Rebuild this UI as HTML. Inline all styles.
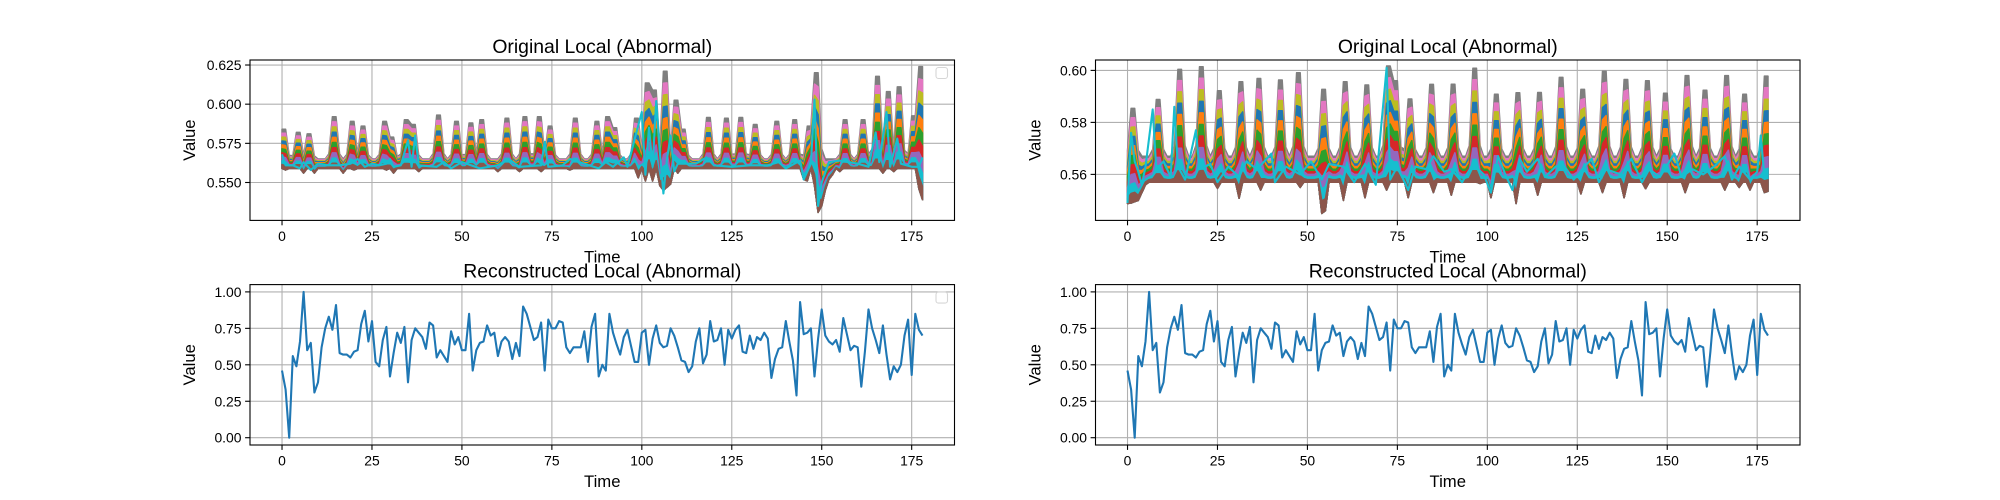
<!DOCTYPE html>
<html><head><meta charset="utf-8">
<style>
html,body{margin:0;padding:0;background:#fff;}
svg{display:block;font-family:"Liberation Sans","DejaVu Sans",sans-serif;}
</style></head>
<body>
<svg id="fig" width="2000" height="500" viewBox="0 0 2000 500" xmlns="http://www.w3.org/2000/svg">
<rect x="0" y="0" width="2000" height="500" fill="#fff"/>
</svg>
<script>
// ---- data ----
const timeTicks = [0,25,50,75,100,125,150,175];
const tlYTicks = [0.550,0.575,0.600,0.625];
const trYTicks = [0.56,0.58,0.60];
const recYTicks = [0.00,0.25,0.50,0.75,1.00];

const tlPeakT = [0,4,7,14,19,22,28,30,34,36,43,48,52,55,62,67,71,74,81,87,90,92,98,101,103,106,109,111,118,123,127,131,137,142,146,148,156,161,165,168,171,175,177];
const tlPeakV = [0.584,0.582,0.581,0.592,0.589,0.586,0.589,0.579,0.590,0.587,0.593,0.589,0.588,0.590,0.591,0.592,0.592,0.586,0.591,0.589,0.592,0.585,0.591,0.6135,0.609,0.621,0.6025,0.584,0.5915,0.591,0.5915,0.587,0.589,0.590,0.586,0.620,0.590,0.590,0.6177,0.608,0.611,0.5925,0.624];
const tlDipT = [1,6,9,17,20,29,31,38,60,66,72,80,99,101,103,105,106,107,108,110,145,146,148,149,150,151,152,153,155,167,170,177,178];
const tlDipV = [0.558,0.556,0.556,0.556,0.558,0.558,0.556,0.557,0.557,0.557,0.557,0.558,0.553,0.551,0.551,0.548,0.545,0.547,0.549,0.556,0.552,0.551,0.548,0.531,0.535,0.545,0.552,0.555,0.557,0.556,0.557,0.546,0.539];
const tlCyanT = [0,1,3,5,6,8,10,13,16,19,21,23,25,27,29,30,31,33,35,36,37,38,43,45,47,50,55,60,63,66,72,73,74,78,80,84,88,90,92,95,96,100,101,102,103,104,105,106,107,108,109,110,115,118,120,125,130,135,138,140,144,145,146,147,148,149,150,152,155,160,163,165,166,168,169,171,172,175,177,178];
const tlCyanV = [0.568,0.561,0.561,0.559,0.563,0.558,0.562,0.561,0.561,0.562,0.565,0.560,0.562,0.561,0.562,0.565,0.560,0.561,0.577,0.560,0.580,0.561,0.560,0.563,0.559,0.563,0.559,0.561,0.565,0.560,0.561,0.576,0.560,0.561,0.565,0.562,0.559,0.563,0.560,0.566,0.560,0.595,0.555,0.585,0.560,0.602,0.570,0.543,0.565,0.580,0.557,0.562,0.562,0.566,0.561,0.560,0.561,0.561,0.563,0.559,0.564,0.552,0.557,0.562,0.603,0.535,0.550,0.563,0.564,0.562,0.560,0.582,0.563,0.595,0.560,0.578,0.562,0.560,0.560,0.566];

const trPeakT = [1,8,14,20,25,31,36,42,47,54,60,66,72,74,78,84,90,96,102,108,114,120,126,132,138,144,149,155,160,166,171,177];
const trPeakV = [0.5854,0.5888,0.6004,0.6014,0.5922,0.5956,0.5969,0.5963,0.5991,0.5927,0.5956,0.5944,0.6017,0.596,0.589,0.5946,0.5947,0.6008,0.5908,0.5914,0.5915,0.5973,0.5927,0.5997,0.5965,0.596,0.5912,0.598,0.5924,0.598,0.5908,0.5978];
const trDipT = [0,1,2,3,4,5,25,31,37,48,54,55,60,66,72,78,85,90,98,101,108,114,126,132,138,144,155,166,170,173,177,178];
const trDipV = [0.5488,0.549,0.5495,0.550,0.553,0.556,0.5546,0.5508,0.554,0.555,0.545,0.546,0.550,0.551,0.554,0.551,0.553,0.552,0.5565,0.551,0.5488,0.552,0.5525,0.553,0.551,0.5545,0.553,0.554,0.555,0.554,0.553,0.5535];
const trCyanT = [0,1,2,3,4,5,7,8,10,12,13,14,16,19,20,23,25,28,31,33,36,40,41,44,48,51,54,56,60,63,66,69,72,73,75,78,80,83,85,88,90,93,96,99,101,103,105,107,109,111,114,116,119,121,124,127,129,131,133,137,140,143,145,148,152,154,157,160,163,166,168,170,173,175,176,177,178];
const trCyanV = [0.549,0.576,0.565,0.561,0.556,0.563,0.585,0.562,0.565,0.559,0.586,0.563,0.558,0.577,0.562,0.564,0.557,0.563,0.559,0.565,0.562,0.568,0.557,0.563,0.560,0.565,0.558,0.564,0.563,0.557,0.564,0.556,0.601,0.558,0.563,0.554,0.563,0.562,0.567,0.561,0.562,0.557,0.564,0.560,0.553,0.567,0.560,0.554,0.566,0.561,0.566,0.559,0.563,0.564,0.558,0.563,0.566,0.557,0.562,0.560,0.566,0.557,0.562,0.559,0.568,0.559,0.562,0.560,0.563,0.567,0.558,0.563,0.558,0.561,0.575,0.559,0.562];

const recValues = [0.46,0.33,0.00,0.56,0.49,0.66,1.00,0.60,0.65,0.31,0.38,0.62,0.75,0.83,0.74,0.91,0.58,0.57,0.57,0.55,0.59,0.60,0.78,0.87,0.66,0.80,0.52,0.49,0.67,0.76,0.42,0.58,0.72,0.65,0.76,0.38,0.67,0.75,0.72,0.69,0.61,0.79,0.77,0.55,0.60,0.56,0.52,0.73,0.64,0.69,0.60,0.60,0.85,0.46,0.60,0.65,0.66,0.77,0.70,0.72,0.56,0.66,0.69,0.66,0.54,0.65,0.56,0.90,0.85,0.76,0.67,0.69,0.79,0.46,0.81,0.75,0.75,0.80,0.79,0.62,0.58,0.62,0.62,0.62,0.73,0.52,0.76,0.85,0.42,0.50,0.46,0.85,0.72,0.64,0.57,0.69,0.74,0.63,0.52,0.52,0.72,0.74,0.50,0.68,0.77,0.65,0.62,0.63,0.75,0.70,0.62,0.53,0.52,0.45,0.49,0.66,0.75,0.51,0.57,0.80,0.66,0.67,0.75,0.50,0.74,0.68,0.74,0.77,0.59,0.58,0.70,0.61,0.69,0.67,0.72,0.68,0.41,0.54,0.61,0.62,0.80,0.66,0.53,0.29,0.93,0.71,0.72,0.75,0.42,0.68,0.88,0.70,0.66,0.64,0.67,0.59,0.82,0.71,0.60,0.63,0.62,0.35,0.59,0.88,0.75,0.67,0.58,0.77,0.57,0.40,0.49,0.45,0.50,0.70,0.81,0.43,0.85,0.74,0.70];

const tab10 = ["#1f77b4","#ff7f0e","#2ca02c","#d62728","#9467bd","#8c564b","#e377c2","#7f7f7f","#bcbd22","#17becf"];
const NS = "http://www.w3.org/2000/svg";
const fig = document.getElementById('fig');

function mk(tag, attrs, parent){
  const e = document.createElementNS(NS, tag);
  for (const k in attrs) e.setAttribute(k, attrs[k]);
  (parent||fig).appendChild(e);
  return e;
}

function makeAxes(name, x0, y0, w, h, ymin, ymax, yTicks, yFmt, title, legend){
  const g = mk('g', {});
  
  
  const xmin = -8.9, xmax = 186.9;
  const sx = t => x0 + (t - xmin) / (xmax - xmin) * w;
  const sy = v => y0 + h - (v - ymin) / (ymax - ymin) * h;
  const clip = mk('clipPath', {id: name + '-clip'}, g);
  mk('rect', {x:x0, y:y0, width:w, height:h}, clip);
  const grid = mk('g', {}, g);
  
  
  timeTicks.forEach(t => {
    mk('line', {x1:sx(t), x2:sx(t), y1:y0, y2:y0+h, stroke:'#b0b0b0', 'stroke-width':1.1}, grid);
  });
  yTicks.forEach(v => {
    mk('line', {x1:x0, x2:x0+w, y1:sy(v), y2:sy(v), stroke:'#b0b0b0', 'stroke-width':1.1}, grid);
  });
  const plot = mk('g', {'clip-path': 'url(#' + name + '-clip)'}, g);
  
  
  const tk = mk('g', {}, g);
  
  
  timeTicks.forEach(t => {
    mk('line', {x1:sx(t), x2:sx(t), y1:y0+h, y2:y0+h+4.9, stroke:'#000', 'stroke-width':1.1}, tk);
    const tx = mk('text', {x:sx(t), y:y0+h+20.5, 'font-size':13.9, 'text-anchor':'middle', fill:'#000'}, tk);
    tx.textContent = t;
  });
  yTicks.forEach(v => {
    mk('line', {x1:x0-4.9, x2:x0, y1:sy(v), y2:sy(v), stroke:'#000', 'stroke-width':1.1}, tk);
    const tx = mk('text', {x:x0-8.5, y:sy(v)+5, 'font-size':13.9, 'text-anchor':'end', fill:'#000'}, tk);
    tx.textContent = v.toFixed(yFmt);
  });
  mk('rect', {x:x0, y:y0, width:w, height:h, fill:'none', stroke:'#000', 'stroke-width':1.1}, g);
  const ttl = mk('text', {x:x0+w/2, y:y0-7, 'font-size':19.4, 'text-anchor':'middle', fill:'#000'}, g);
  
  
  ttl.textContent = title;
  const xl = mk('text', {x:x0+w/2, y:y0+h+42, 'font-size':16.7, 'text-anchor':'middle', fill:'#000'}, g);
  
  
  xl.textContent = 'Time';
  const yl = mk('text', {x:0, y:0, 'font-size':16.7, 'text-anchor':'middle', fill:'#000', transform:'translate(' + (x0-55) + ',' + (y0+h/2) + ') rotate(-90)'}, g);
  
  
  yl.textContent = 'Value';
  if (legend) {
    const lg = mk('rect', {x:x0+w-18.5, y:y0+7.5, width:11.5, height:11, rx:2.5, fill:'#fff', stroke:'#d6d6d6', 'stroke-width':1.1}, g);
    
    
  }
  return {sx, sy, plot};
}

function drawEnsemble(ax, name, peakT, peakV, dipT, dipV, cyanT, cyanV, baseHi, baseLo){
  const N = 179;
  const upper = [], lower = [];
  for (let t = 0; t < N; t++){ upper.push(baseHi); lower.push(baseLo); }
  peakT.forEach((pt, i) => {
    const pv = peakV[i];
    [pt, pt+1].forEach(t => { if (t >= 0 && t < N) upper[t] = Math.max(upper[t], pv); });
    [pt-1, pt+2].forEach(t => { if (t >= 0 && t < N) upper[t] = Math.max(upper[t], baseHi + (pv - baseHi) * 0.12); });
  });
  dipT.forEach((dt, i) => { if (dt >= 0 && dt < N) lower[dt] = Math.min(lower[dt], dipV[i]); });
  const layers = mk('g', {}, ax.plot);
  
  
  const order = [7,6,8,0,1,2,3,4,9,5];
  for (let k = 0; k < 10; k++){
    const f = (10 - k) / 10;
    let d = '';
    for (let t = 0; t < N; t++){
      const v = lower[t] + (upper[t] - lower[t]) * f;
      d += (t ? 'L' : 'M') + ax.sx(t).toFixed(1) + ',' + ax.sy(v).toFixed(1);
    }
    for (let t = N - 1; t >= 0; t--){
      d += 'L' + ax.sx(t).toFixed(1) + ',' + ax.sy(lower[t]).toFixed(1);
    }
    const p = mk('path', {d: d + 'Z', fill: tab10[order[k]], stroke: tab10[order[k]], 'stroke-width': 1.5, 'stroke-linejoin':'round'}, layers);
    
    
  }
  let d = '';
  cyanT.forEach((t, i) => { d += (i ? 'L' : 'M') + ax.sx(t).toFixed(1) + ',' + ax.sy(cyanV[i]).toFixed(1); });
  const c = mk('path', {d, fill:'none', stroke:'#17becf', 'stroke-width':2.1, 'stroke-linejoin':'round'}, ax.plot);
  
  
}

function drawLine(ax, name, vals){
  let d = '';
  vals.forEach((v, t) => { d += (t ? 'L' : 'M') + ax.sx(t).toFixed(1) + ',' + ax.sy(v).toFixed(1); });
  const p = mk('path', {d, fill:'none', stroke:'#1f77b4', 'stroke-width':2.1, 'stroke-linejoin':'round'}, ax.plot);
  
  
}

const W = 704.5, H = 160.4;
const axTL = makeAxes('original-local-left', 250, 60, W, H, 0.5258, 0.6282, tlYTicks, 3, 'Original Local (Abnormal)', true);
drawEnsemble(axTL, 'original-local-left', tlPeakT, tlPeakV, tlDipT, tlDipV, tlCyanT, tlCyanV, 0.565, 0.559);
const axTR = makeAxes('original-local-right', 1095.5, 60, W, H, 0.5423, 0.604, trYTicks, 2, 'Original Local (Abnormal)', false);
drawEnsemble(axTR, 'original-local-right', trPeakT, trPeakV, trDipT, trDipV, trCyanT, trCyanV, 0.567, 0.557);
const axBL = makeAxes('reconstructed-local-left', 250, 284.6, W, H, -0.05, 1.05, recYTicks, 2, 'Reconstructed Local (Abnormal)', true);
drawLine(axBL, 'reconstructed-local-left', recValues);
const axBR = makeAxes('reconstructed-local-right', 1095.5, 284.6, W, H, -0.05, 1.05, recYTicks, 2, 'Reconstructed Local (Abnormal)', false);
drawLine(axBR, 'reconstructed-local-right', recValues);
</script>
</body></html>
